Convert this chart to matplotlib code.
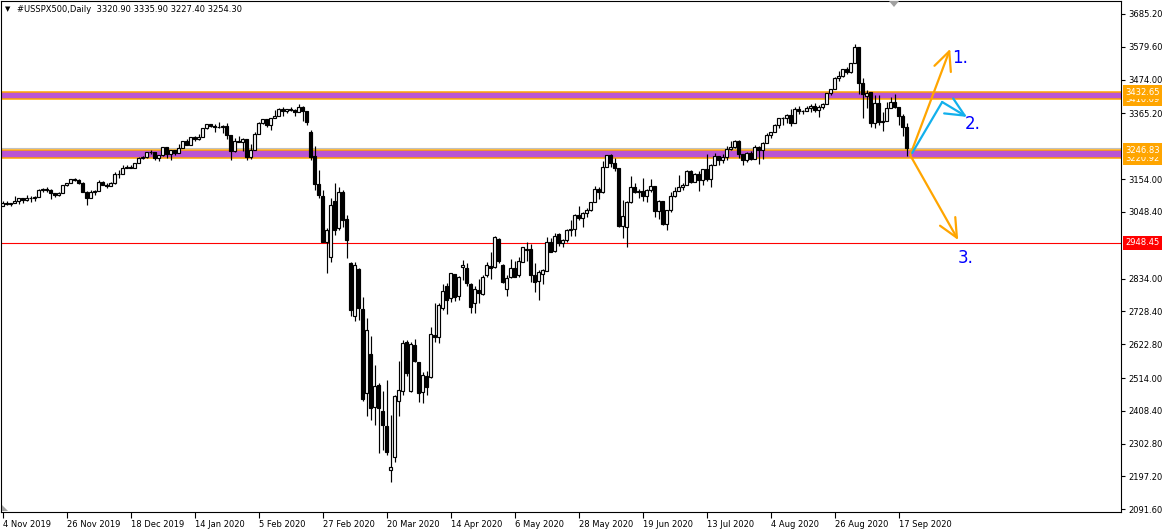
import matplotlib
matplotlib.use("Agg")
import matplotlib.pyplot as plt
from matplotlib.patches import Rectangle, Polygon
from matplotlib.transforms import blended_transform_factory

W, H = 1166, 532
plt.rcParams['font.family'] = ['DejaVu Sans']

# daily candles, 4 Nov 2019 .. 21 Sep 2020 (one row per month)
opens = [
    3067, 3078, 3075, 3077, 3085, 3093, 3087, 3092, 3094, 3097, 3120, 3122, 3120, 3108, 3104, 3110, 3134, 3141, 3154, 3152,
    3141, 3114, 3093, 3113, 3117, 3146, 3136, 3133, 3142, 3169, 3169, 3191, 3193, 3191, 3205, 3221, 3224, 3240, 3240, 3221,
    3231, 3258, 3235, 3246, 3237, 3253, 3275, 3265, 3288, 3283, 3289, 3317, 3330, 3326, 3321, 3322, 3326, 3295, 3244, 3276, 3273, 3284,
    3226, 3249, 3298, 3335, 3346, 3328, 3352, 3358, 3379, 3374, 3380, 3377, 3370, 3386, 3373, 3305, 3228, 3137, 3100, 2953,
    2904, 3083, 2996, 3114, 3025, 2883, 2714, 2865, 2736, 2467, 2590, 2422, 2491, 2409, 2360, 2218, 2260, 2441, 2473, 2631, 2473, 2620,
    2565, 2470, 2520, 2516, 2652, 2647, 2738, 2811, 2771, 2849, 2778, 2870, 2867, 2815, 2754, 2796, 2784, 2846, 2875, 2872, 2962,
    2878, 2799, 2838, 2867, 2846, 2888, 2926, 2928, 2845, 2826, 2849, 2859, 2951, 2922, 2977, 2948, 2958, 2990, 2995, 3040, 3030,
    3045, 3056, 3081, 3123, 3112, 3194, 3232, 3207, 3190, 3002, 3000, 3080, 3128, 3113, 3115, 3098, 3118, 3131, 3050, 3084, 3009, 3053,
    3100, 3116, 3130, 3135, 3180, 3145, 3170, 3152, 3185, 3155, 3198, 3227, 3216, 3225, 3252, 3257, 3276, 3236, 3216, 3239, 3218, 3258, 3246,
    3271, 3295, 3307, 3328, 3349, 3351, 3360, 3334, 3380, 3373, 3373, 3382, 3390, 3375, 3386, 3397, 3431, 3444, 3479, 3485, 3508,
    3500, 3527, 3578, 3462, 3420, 3433, 3336, 3399, 3339, 3341, 3384, 3401, 3385, 3357, 3321,
]
highs = [
    3085, 3084, 3078, 3098, 3093, 3093, 3103, 3098, 3098, 3121, 3124, 3128, 3121, 3110, 3113, 3134, 3143, 3154, 3156, 3154,
    3144, 3115, 3119, 3120, 3151, 3149, 3142, 3144, 3176, 3183, 3198, 3198, 3199, 3206, 3226, 3228, 3240, 3248, 3241, 3232,
    3258, 3258, 3247, 3248, 3267, 3276, 3283, 3288, 3294, 3299, 3317, 3330, 3332, 3330, 3338, 3327, 3333, 3296, 3286, 3293, 3286, 3284,
    3268, 3307, 3338, 3348, 3347, 3352, 3376, 3382, 3385, 3381, 3385, 3378, 3394, 3389, 3374, 3312, 3260, 3183, 3120, 2996,
    3092, 3140, 3130, 3118, 3038, 2888, 2888, 2869, 2775, 2706, 2649, 2555, 2499, 2473, 2506, 2395, 2460, 2570, 2637, 2636, 2630, 2641,
    2567, 2534, 2537, 2677, 2754, 2754, 2818, 2819, 2852, 2850, 2841, 2894, 2885, 2819, 2810, 2831, 2845, 2888, 2920, 2970, 2966,
    2882, 2845, 2898, 2891, 2902, 2937, 2953, 2946, 2883, 2862, 2866, 2968, 2964, 2980, 2979, 2960, 2993, 3022, 3043, 3069, 3049,
    3062, 3081, 3131, 3129, 3212, 3233, 3234, 3223, 3191, 3088, 3083, 3164, 3141, 3121, 3156, 3121, 3155, 3131, 3086, 3084, 3054, 3112,
    3128, 3166, 3140, 3183, 3184, 3172, 3180, 3187, 3235, 3201, 3238, 3228, 3234, 3259, 3277, 3279, 3280, 3236, 3241, 3244, 3265, 3259, 3272,
    3303, 3307, 3331, 3351, 3353, 3363, 3381, 3387, 3388, 3376, 3388, 3395, 3400, 3391, 3400, 3432, 3444, 3481, 3501, 3509, 3515,
    3528, 3588, 3579, 3479, 3440, 3434, 3425, 3426, 3369, 3403, 3419, 3429, 3385, 3362, 3336,
]
lows = [
    3066, 3072, 3066, 3076, 3074, 3076, 3085, 3079, 3083, 3096, 3112, 3113, 3091, 3095, 3099, 3110, 3131, 3140, 3148, 3139,
    3111, 3070, 3092, 3104, 3117, 3135, 3126, 3132, 3138, 3157, 3169, 3190, 3190, 3191, 3205, 3220, 3222, 3234, 3217, 3212,
    3228, 3222, 3215, 3232, 3237, 3253, 3263, 3265, 3277, 3281, 3289, 3316, 3322, 3305, 3318, 3302, 3282, 3215, 3240, 3272, 3243, 3215,
    3220, 3249, 3298, 3330, 3322, 3312, 3350, 3356, 3356, 3366, 3372, 3356, 3370, 3341, 3328, 3214, 3118, 3092, 2950, 2853,
    2888, 2974, 2990, 3000, 2899, 2714, 2696, 2701, 2440, 2392, 2379, 2362, 2274, 2282, 2265, 2180, 2243, 2392, 2460, 2520, 2470, 2565,
    2438, 2432, 2460, 2513, 2631, 2628, 2733, 2719, 2760, 2761, 2764, 2828, 2811, 2724, 2724, 2754, 2780, 2840, 2834, 2868, 2885,
    2821, 2778, 2836, 2838, 2840, 2886, 2890, 2824, 2792, 2766, 2817, 2858, 2918, 2918, 2938, 2934, 2952, 2970, 2970, 3023, 2999,
    3032, 3052, 3081, 3090, 3110, 3194, 3193, 3181, 2999, 2965, 2936, 3076, 3108, 3094, 3083, 3080, 3113, 3033, 3024, 3005, 2990, 3048,
    3095, 3116, 3120, 3135, 3143, 3144, 3116, 3136, 3149, 3128, 3198, 3199, 3206, 3215, 3248, 3253, 3223, 3200, 3210, 3216, 3218, 3204, 3220,
    3271, 3286, 3307, 3318, 3329, 3335, 3326, 3334, 3363, 3362, 3372, 3370, 3370, 3355, 3379, 3397, 3426, 3444, 3468, 3484, 3493,
    3495, 3527, 3427, 3350, 3383, 3320, 3318, 3329, 3310, 3341, 3384, 3384, 3329, 3292, 3227,
]
closes = [
    3078, 3075, 3077, 3085, 3093, 3087, 3092, 3094, 3097, 3120, 3122, 3120, 3108, 3104, 3110, 3134, 3141, 3154, 3152, 3141,
    3114, 3093, 3113, 3117, 3146, 3136, 3133, 3142, 3169, 3169, 3191, 3193, 3191, 3205, 3221, 3224, 3240, 3240, 3221, 3231,
    3258, 3235, 3246, 3237, 3253, 3275, 3265, 3288, 3283, 3289, 3317, 3330, 3326, 3321, 3322, 3326, 3295, 3244, 3276, 3273, 3284, 3226,
    3249, 3298, 3335, 3346, 3328, 3352, 3358, 3379, 3374, 3380, 3377, 3370, 3386, 3373, 3338, 3226, 3137, 3103, 2950, 2990,
    3071, 2990, 3114, 3022, 2958, 2733, 2878, 2740, 2448, 2668, 2416, 2488, 2416, 2363, 2277, 2227, 2455, 2476, 2627, 2529, 2623, 2570,
    2465, 2523, 2486, 2655, 2645, 2749, 2794, 2765, 2851, 2776, 2838, 2878, 2819, 2741, 2799, 2788, 2838, 2877, 2867, 2967, 2889,
    2824, 2835, 2867, 2840, 2891, 2937, 2930, 2846, 2824, 2856, 2862, 2951, 2918, 2972, 2948, 2958, 2990, 2995, 3040, 3030, 3045,
    3056, 3081, 3123, 3112, 3194, 3232, 3207, 3190, 3002, 3035, 3080, 3128, 3113, 3115, 3098, 3118, 3131, 3050, 3084, 3009, 3053, 3100,
    3116, 3130, 3135, 3180, 3145, 3170, 3152, 3185, 3155, 3198, 3227, 3216, 3225, 3252, 3257, 3276, 3236, 3216, 3239, 3218, 3258, 3246, 3271,
    3295, 3307, 3328, 3349, 3351, 3360, 3334, 3380, 3373, 3373, 3382, 3390, 3375, 3386, 3397, 3431, 3444, 3479, 3485, 3508, 3500,
    3527, 3578, 3462, 3427, 3432, 3336, 3399, 3339, 3341, 3384, 3401, 3385, 3357, 3320, 3254,
]

date_labels = ['4 Nov 2019', '26 Nov 2019', '18 Dec 2019', '14 Jan 2020', '5 Feb 2020',
               '27 Feb 2020', '20 Mar 2020', '14 Apr 2020', '6 May 2020', '28 May 2020',
               '19 Jun 2020', '13 Jul 2020', '4 Aug 2020', '26 Aug 2020', '17 Sep 2020']
date_tick_bars = [0, 16, 32, 48, 64, 80, 96, 112, 128, 144, 160, 176, 192, 208, 224]

# scale labels (the ones under the price boxes are left out)
price_ticks = [3685.20, 3579.60, 3474.00, 3365.20, 3154.00, 3048.40,
               2834.00, 2728.40, 2622.80, 2514.00, 2408.40, 2302.80, 2197.20, 2091.60]

zones = [(3432.65, 3410.09), (3246.83, 3220.92)]
red_level = 2948.45
bid = 3254.30
header = '#USSPX500,Daily  3320.90 3335.90 3227.40 3254.30'

ORANGE = '#FFA500'
PURPLE = '#BA55D3'
CYAN = '#12B0EC'
BLUE = '#0000FF'

fig = plt.figure(figsize=(W / 100, H / 100), dpi=100, facecolor='white')
ax = fig.add_axes([1 / W, 20 / H, 1120 / W, 511 / H])
ax.set_xlim(-0.375, 279.6)
ax.set_ylim(2082.9, 3727.0)
ax.set_facecolor('white')

# zones and level lines (behind the candles)
for top, bot in zones:
    ax.axhspan(bot, top, color=PURPLE, lw=0, zorder=1)
    for lvl in (top, bot):
        ax.axhline(lvl, color=ORANGE, lw=1.1, zorder=2)
ax.axhline(red_level, color='red', lw=0.8, zorder=2)
ax.axhline(bid, color='#C0C0C0', lw=0.8, zorder=2)

# candles
for i, (o, h, l, c) in enumerate(zip(opens, highs, lows, closes)):
    ax.vlines(i, l, h, color='black', lw=0.85, zorder=3)
    body = max(abs(c - o), 0.8)
    ax.add_patch(Rectangle((i - 0.3, min(o, c)), 0.6, body,
                           facecolor='white' if c >= o else 'black',
                           edgecolor='black', lw=0.85, zorder=4))

# scenario arrows
arrow_kw = dict(arrowstyle='->,head_length=0.75,head_width=0.35', lw=1.6,
                mutation_scale=18, shrinkA=0, shrinkB=0)
ax.annotate('', xy=(236.9, 3573), xytext=(226.9, 3231),
            arrowprops=dict(color=ORANGE, **arrow_kw), annotation_clip=False, zorder=6)
ax.plot([227.4, 234.9], [3238, 3402], color=CYAN, lw=1.6, zorder=6, solid_capstyle='round')
ax.annotate('', xy=(241.1, 3354), xytext=(234.9, 3402),
            arrowprops=dict(color=CYAN, **arrow_kw), annotation_clip=False, zorder=6)
ax.annotate('', xy=(238.9, 2958), xytext=(226.9, 3231),
            arrowprops=dict(color=ORANGE, **arrow_kw), annotation_clip=False, zorder=6)
ax.text(237.3, 3544, '1.', color=BLUE, fontsize=12, ha='left', va='center', zorder=7)
ax.text(240.6, 3331, '2.', color=BLUE, fontsize=12, ha='left', va='center', zorder=7)
ax.text(238.9, 2900, '3.', color=BLUE, fontsize=12, ha='left', va='center', zorder=7)

# axes styling, MT4 look
for sp in ax.spines.values():
    sp.set_color('black')
    sp.set_linewidth(0.8)
ax.yaxis.tick_right()
ax.set_yticks(price_ticks)
ax.set_yticklabels([f'{p:.2f}' for p in price_ticks])
ax.tick_params(axis='y', length=3, width=0.8, pad=2, labelsize=6, direction='out')
ax.set_xticks(date_tick_bars)
ax.set_xticklabels(date_labels, ha='left')
ax.tick_params(axis='x', length=4, width=0.8, pad=2, labelsize=6, direction='out')

# price labels on the right scale
blend = blended_transform_factory(ax.transAxes, ax.transData)
lbl_x = 1.0 + 4 / 1120
for top, bot in zones:
    for lvl, z in ((bot, 10), (top, 11)):
        ax.text(lbl_x, lvl, f'{lvl:.2f}', transform=blend, ha='left', va='center',
                color='white', fontsize=6, clip_on=False, zorder=z,
                bbox=dict(boxstyle='square,pad=0.3', fc=ORANGE, ec='none'))
ax.text(lbl_x, red_level, f'{red_level:.2f}', transform=blend, ha='left', va='center',
        color='white', fontsize=6, clip_on=False, zorder=10,
        bbox=dict(boxstyle='square,pad=0.3', fc='red', ec='none'))

# header and small markers
fig.text(5 / W, 1 - 9.5 / H, '\u25bc', fontsize=5, va='center', ha='left')
fig.text(17 / W, 1 - 9.5 / H, header, fontsize=6, va='center', ha='left')
fig.patches.append(Polygon([(889 / W, 1 - 1 / H), (899 / W, 1 - 1 / H), (894 / W, 1 - 7 / H)],
                           closed=True, fc='#A0A0A0', ec='none', transform=fig.transFigure))
fig.patches.append(Polygon([(1.5 / W, 1 - 505 / H), (1.5 / W, 1 - 511 / H), (7.5 / W, 1 - 511 / H)],
                           closed=True, fc='#A0A0A0', ec='none', transform=fig.transFigure))

fig.savefig('out.png', dpi=100, facecolor='white')
